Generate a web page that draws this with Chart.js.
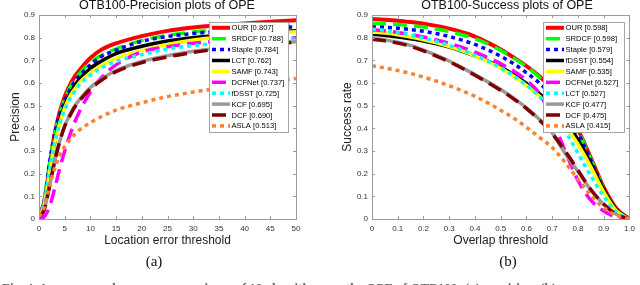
<!DOCTYPE html>
<html><head><meta charset="utf-8">
<script src="https://cdn.jsdelivr.net/npm/chart.js@4.4.1/dist/chart.umd.min.js"></script>
<style>
html,body{margin:0;padding:0;background:#fff;width:640px;height:285px;overflow:hidden;}
#wrap{position:relative;width:640px;height:285px;overflow:hidden;}
canvas{position:absolute;top:0;}
.sub{position:absolute;font-family:"Liberation Serif","Times New Roman",serif;font-size:15px;color:#111;top:252px;width:40px;text-align:center;line-height:18px;}
.ttl{position:absolute;top:-2px;width:260px;text-align:center;font-family:"Liberation Sans",Arial,sans-serif;font-size:12.5px;line-height:15px;color:#111;white-space:nowrap;}
.cap{position:absolute;left:2px;top:280px;width:640px;font-family:"Liberation Serif","Times New Roman",serif;font-weight:bold;font-size:13px;line-height:16px;color:#666;white-space:nowrap;}
</style></head><body>
<div id="wrap">
<canvas id="c1" width="320" height="285" style="left:0"></canvas>
<canvas id="c2" width="320" height="285" style="left:320px"></canvas>
<div class="ttl" style="left:37px">OTB100-Precision plots of OPE</div>
<div class="ttl" style="left:377px">OTB100-Success plots of OPE</div>
<div class="sub" style="left:134px">(a)</div>
<div class="sub" style="left:488px">(b)</div>
<div class="cap">Fig. 4. Accuracy and success comparisons of 10 algorithms on the OPE of OTB100: (a) precision, (b) success.</div>
</div>
<script>
// ---------- Precision plot data ----------
const precThresholds = [0,1,2,3,4,5,6,7,8,10,12,15,20,25,30,35,40,45,50];
const precOUR    = [0.01,0.07,0.22,0.37,0.47,0.54,0.59,0.63,0.66,0.71,0.745,0.775,0.807,0.83,0.845,0.855,0.863,0.87,0.877];
const precSRDCF  = [0.01,0.08,0.24,0.37,0.46,0.53,0.58,0.615,0.645,0.69,0.72,0.75,0.788,0.81,0.825,0.835,0.843,0.85,0.855];
const precStaple = [0.01,0.08,0.24,0.37,0.46,0.52,0.57,0.605,0.635,0.68,0.715,0.745,0.784,0.805,0.818,0.828,0.835,0.842,0.848];
const precLCT    = [0.01,0.06,0.2,0.33,0.43,0.5,0.55,0.59,0.62,0.665,0.695,0.73,0.762,0.785,0.8,0.81,0.818,0.825,0.83];
const precSAMF   = [0.01,0.06,0.2,0.33,0.42,0.49,0.54,0.575,0.605,0.645,0.675,0.71,0.743,0.77,0.79,0.802,0.812,0.82,0.826];
const precDCFNet = [0.0,0.01,0.05,0.13,0.22,0.3,0.37,0.43,0.48,0.56,0.62,0.68,0.737,0.76,0.775,0.785,0.792,0.797,0.80];
const precFDSST  = [0.01,0.07,0.21,0.33,0.42,0.48,0.53,0.565,0.595,0.635,0.665,0.695,0.725,0.75,0.765,0.776,0.785,0.792,0.797];
const precKCF    = [0.01,0.04,0.14,0.25,0.34,0.41,0.46,0.5,0.53,0.58,0.615,0.655,0.695,0.72,0.74,0.755,0.766,0.775,0.782];
const precDCF    = [0.01,0.04,0.14,0.25,0.34,0.41,0.455,0.495,0.525,0.575,0.61,0.65,0.69,0.715,0.735,0.75,0.762,0.772,0.78];
const precASLA   = [0.01,0.05,0.14,0.22,0.28,0.32,0.35,0.375,0.395,0.425,0.45,0.48,0.513,0.54,0.56,0.577,0.592,0.606,0.62];
const precLabels = ['OUR [0.807]','SRDCF [0.788]','Staple [0.784]','LCT [0.762]','SAMF [0.743]','DCFNet [0.737]','fDSST [0.725]','KCF [0.695]','DCF [0.690]','ASLA [0.513]'];
const precSeries = [precOUR,precSRDCF,precStaple,precLCT,precSAMF,precDCFNet,precFDSST,precKCF,precDCF,precASLA];

// ---------- Success plot data ----------
const succThresholds = [0,0.05,0.1,0.15,0.2,0.25,0.3,0.35,0.4,0.45,0.5,0.55,0.6,0.65,0.7,0.75,0.8,0.85,0.9,0.95,1];
const succOUR    = [0.882,0.879,0.875,0.869,0.862,0.852,0.84,0.824,0.805,0.778,0.748,0.713,0.675,0.63,0.575,0.5,0.395,0.27,0.14,0.045,0.0];
const succSRDCF  = [0.863,0.861,0.858,0.853,0.847,0.838,0.827,0.813,0.795,0.772,0.744,0.71,0.672,0.625,0.568,0.49,0.39,0.265,0.135,0.04,0.0];
const succStaple = [0.848,0.846,0.842,0.836,0.828,0.818,0.805,0.789,0.77,0.746,0.718,0.685,0.645,0.6,0.545,0.475,0.38,0.26,0.13,0.04,0.0];
const succFDSST  = [0.815,0.81,0.803,0.795,0.785,0.773,0.758,0.74,0.72,0.697,0.67,0.637,0.598,0.553,0.5,0.435,0.35,0.245,0.13,0.04,0.0];
const succSAMF   = [0.825,0.82,0.813,0.803,0.791,0.777,0.761,0.742,0.72,0.695,0.665,0.63,0.59,0.542,0.485,0.415,0.33,0.23,0.12,0.035,0.0];
const succDCFNet = [0.835,0.83,0.823,0.814,0.803,0.79,0.775,0.757,0.736,0.712,0.685,0.653,0.612,0.555,0.44,0.3,0.17,0.083,0.035,0.008,0.0];
const succLCT    = [0.838,0.832,0.823,0.812,0.799,0.784,0.766,0.746,0.723,0.697,0.667,0.632,0.59,0.54,0.475,0.39,0.29,0.19,0.1,0.03,0.0];
const succKCF    = [0.797,0.79,0.78,0.766,0.745,0.722,0.697,0.668,0.637,0.605,0.571,0.533,0.49,0.44,0.38,0.29,0.21,0.128,0.065,0.02,0.0];
const succDCF    = [0.793,0.786,0.776,0.762,0.742,0.719,0.694,0.665,0.634,0.602,0.568,0.53,0.487,0.437,0.377,0.3,0.215,0.13,0.065,0.02,0.0];
const succASLA   = [0.676,0.666,0.655,0.642,0.626,0.608,0.588,0.566,0.541,0.512,0.48,0.445,0.405,0.36,0.315,0.25,0.175,0.105,0.05,0.015,0.0];
const succLabels = ['OUR [0.598]','SRDCF [0.598]','Staple [0.579]','fDSST [0.554]','SAMF [0.535]','DCFNet [0.527]','LCT [0.527]','KCF [0.477]','DCF [0.475]','ASLA [0.415]'];
const succSeries = [succOUR,succSRDCF,succStaple,succFDSST,succSAMF,succDCFNet,succLCT,succKCF,succDCF,succASLA];

// ---------- Styles by rank ----------
const rankColors = ['#ff0000','#00ff00','#0000ff','#000000','#ffff00','#ff00ff','#00ffff','#999999','#7f0000','#f98232'];
const rankDashes = [[],[14,7],[4,4],[],[],[14,7],[4,4],[],[14,7],[4,4]];

const FONT = '"Liberation Sans", Arial, Helvetica, sans-serif';

const boxPlugin = {
  id: 'boxTicks',
  afterDraw(chart, args, o) {
    const ctx = chart.ctx, ca = chart.chartArea;
    const xs = chart.scales.x, ys = chart.scales.y;
    ctx.save();
    ctx.strokeStyle = '#9a9a9a';
    ctx.lineWidth = 1;
    ctx.setLineDash([]);
    ctx.strokeRect(Math.round(ca.left)+0.5, Math.round(ca.top)+0.5, Math.round(ca.right-ca.left), Math.round(ca.bottom-ca.top));
    ctx.beginPath();
    xs.ticks.forEach(t => {
      const px = Math.round(xs.getPixelForValue(t.value)) + 0.5;
      ctx.moveTo(px, ca.bottom); ctx.lineTo(px, ca.bottom - 3);
      ctx.moveTo(px, ca.top); ctx.lineTo(px, ca.top + 3);
    });
    ys.ticks.forEach(t => {
      const py = Math.round(ys.getPixelForValue(t.value)) + 0.5;
      ctx.moveTo(ca.left, py); ctx.lineTo(ca.left + 3, py);
      ctx.moveTo(ca.right, py); ctx.lineTo(ca.right - 3, py);
    });
    ctx.stroke();
    // legend
    ctx.font = '7.6px ' + FONT;
    const items = chart.data.datasets;
    const rowH = 10.9;
    const w = o.width;
    const h = Math.round(items.length * rowH + 0.5);
    const x0 = Math.round(ca.right - o.right - w);
    const y0 = Math.round(ca.top + o.top);
    ctx.fillStyle = '#fff';
    ctx.fillRect(x0, y0, w, h);
    ctx.strokeStyle = '#a6a6a6';
    ctx.strokeRect(x0 + 0.5, y0 + 0.5, w, h);
    items.forEach((d, i) => {
      const cy = y0 + 5.8 + i * rowH;
      ctx.beginPath();
      ctx.setLineDash(d.borderDash || []);
      ctx.strokeStyle = d.borderColor;
      ctx.lineWidth = d.borderWidth;
      ctx.lineCap = 'butt';
      ctx.moveTo(x0 + 3, cy); ctx.lineTo(x0 + 21, cy);
      ctx.stroke();
      ctx.setLineDash([]);
      ctx.fillStyle = '#000';
      ctx.textBaseline = 'middle';
      ctx.textAlign = 'left';
      ctx.fillText(d.label, x0 + 22.5, cy + 0.5);
    });
    ctx.restore();
  }
};

function makeChart(id, xs, series, labels, cfg) {
  const n = series.length;
  const datasets = series.map((vals, i) => ({
    label: labels[i],
    data: xs.map((x, k) => ({ x: x, y: vals[k] })),
    borderColor: rankColors[i],
    backgroundColor: rankColors[i],
    borderDash: rankDashes[i],
    borderWidth: i === 0 ? 4 : 3.5,
    borderCapStyle: 'butt',
    pointRadius: 0,
    fill: false,
    cubicInterpolationMode: 'monotone',
    order: n - i
  }));
  return new Chart(document.getElementById(id), {
    type: 'line',
    data: { datasets: datasets },
    plugins: [boxPlugin],
    options: {
      responsive: false,
      devicePixelRatio: 1,
      animation: false,
      layout: { padding: { left: 0, right: cfg.padRight, top: 15, bottom: 35 } },
      plugins: {
        legend: { display: false },
        tooltip: { enabled: false },
        title: { display: false },
        boxTicks: { right: cfg.legRight, top: cfg.legTop, width: cfg.legWidth }
      },
      scales: {
        x: {
          type: 'linear', min: cfg.xMin, max: cfg.xMax,
          ticks: { stepSize: cfg.xStep, autoSkip: false, maxRotation: 0, color: '#333', font: { family: FONT, size: 8 }, padding: 5 },
          grid: { display: false, drawTicks: false },
          border: { display: false },
          title: { display: true, text: cfg.xTitle, color: '#222', font: { family: FONT, size: 12 }, padding: { top: 0, bottom: 2 } },
          afterFit: s => { s.height = 31; }
        },
        y: {
          type: 'linear', min: 0, max: 0.9,
          ticks: { stepSize: 0.1, autoSkip: false, color: '#333', font: { family: FONT, size: 8 }, padding: 4 },
          grid: { display: false, drawTicks: false },
          border: { display: false },
          title: { display: true, text: cfg.yTitle, color: '#222', font: { family: FONT, size: 12 }, padding: { top: cfg.yTitlePad, bottom: 0 } },
          afterFit: s => { s.width = cfg.yWidth; }
        }
      }
    }
  });
}

makeChart('c1', precThresholds, precSeries, precLabels, {
  xTitle: 'Location error threshold', yTitle: 'Precision',
  xMin: 0, xMax: 50, xStep: 5, padRight: 24, yWidth: 39, yTitlePad: 8, legRight: 8, legTop: 6.5, legWidth: 79
});
makeChart('c2', succThresholds, succSeries, succLabels, {
  xTitle: 'Overlap threshold', yTitle: 'Success rate',
  xMin: 0, xMax: 1, xStep: 0.1, padRight: 4, yWidth: 52, yTitlePad: 20, legRight: 5, legTop: 7, legWidth: 81
});
</script>
</body></html>
